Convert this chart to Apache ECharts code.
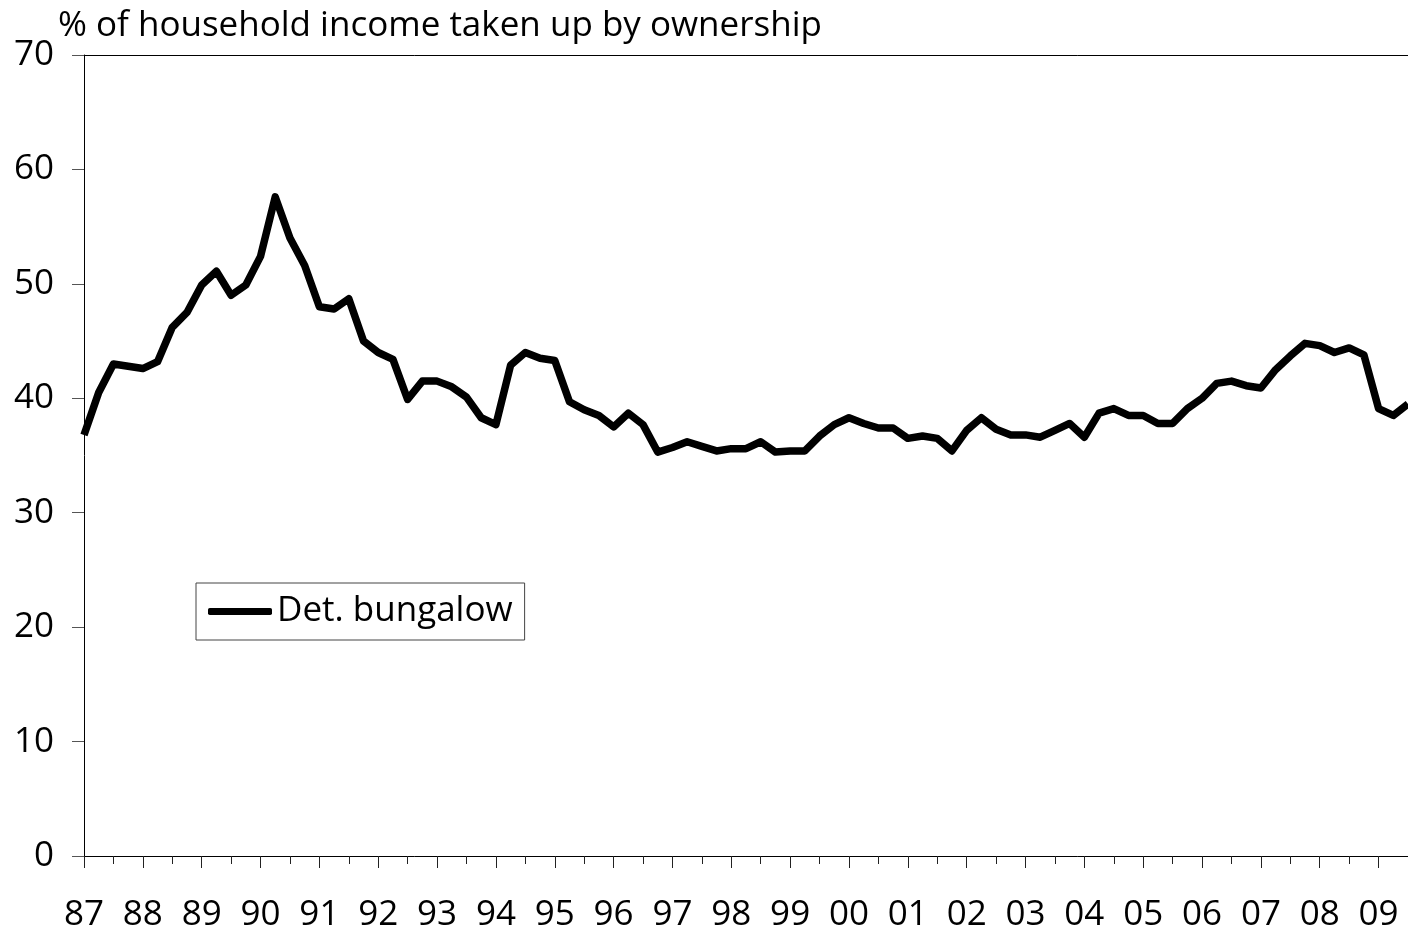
<!DOCTYPE html>
<html>
<head>
<meta charset="utf-8">
<script src="https://cdn.jsdelivr.net/npm/echarts@6/dist/echarts.min.js"></script>
<style>
  html, body { margin: 0; padding: 0; background: #fff; }
  #chart { width: 1408px; height: 933px; }
</style>
</head>
<body>
<div id="chart"></div>
<script>
// year labels on the axis, quarterly data from 87 Q1
var years = ['87', '88', '89', '90', '91', '92', '93', '94', '95', '96', '97', '98',
  '99', '00', '01', '02', '03', '04', '05', '06', '07', '08', '09']
var bungalow = [
  36.8, 40.5, 43.0, 42.8, 42.6, 43.2, 46.2, 47.5, 49.9, 51.1, 49.0, 49.9,
  52.4, 57.6, 54.0, 51.6, 48.0, 47.8, 48.7, 45.0, 44.0, 43.4, 39.9, 41.5,
  41.5, 41.0, 40.1, 38.3, 37.7, 42.9, 44.0, 43.5, 43.3, 39.7, 39.0, 38.5,
  37.5, 38.7, 37.7, 35.3, 35.7, 36.2, 35.8, 35.4, 35.6, 35.6, 36.2, 35.3,
  35.4, 35.4, 36.7, 37.7, 38.3, 37.8, 37.4, 37.4, 36.5, 36.7, 36.5, 35.4,
  37.2, 38.3, 37.3, 36.8, 36.8, 36.6, 37.2, 37.8, 36.6, 38.7, 39.1, 38.5,
  38.5, 37.8, 37.8, 39.1, 40.0, 41.3, 41.5, 41.1, 40.9, 42.5, 43.7, 44.8,
  44.6, 44.0, 44.4, 43.8, 39.1, 38.5, 39.5
]

var categories = []
years.forEach(function(y) {
  for (var q = 1; q <= 4; q++) categories.push(y + ' Q' + q)
})
categories = categories.slice(0, bungalow.length)

var FONT = 'Open Sans'
var chart = echarts.init(document.getElementById('chart'))

chart.setOption({
  animation: false,
  title: {
    text: '% of household income taken up by ownership',
    left: 58,
    top: 9,
    padding: 0,
    textStyle: { fontFamily: FONT, fontSize: 35, fontWeight: 'normal', color: '#000' }
  },
  legend: {
    left: 196,
    top: 583,
    padding: [11, 12, 11, 12],
    borderColor: '#444',
    borderWidth: 1,
    icon: 'roundRect',
    itemWidth: 64,
    itemHeight: 7,
    textStyle: { fontFamily: FONT, fontSize: 35, color: '#000' },
    data: ['Det. bungalow']
  },
  grid: { left: 84, right: -5, top: 55, bottom: 74 },
  xAxis: [
    {
      // half-year minor ticks
      type: 'category',
      data: categories,
      boundaryGap: false,
      axisLine: { lineStyle: { color: '#000', width: 1 } },
      axisTick: { interval: 1, length: 8, lineStyle: { color: '#222' } },
      axisLabel: { show: false },
      splitLine: { show: false }
    },
    {
      // year ticks and labels
      type: 'category',
      data: categories,
      boundaryGap: false,
      position: 'bottom',
      axisLine: { show: false },
      axisTick: { interval: 3, length: 12, lineStyle: { color: '#222' } },
      axisLabel: {
        interval: 3,
        margin: 42,
        fontFamily: FONT,
        fontSize: 35,
        color: '#000',
        formatter: function(v) { return v.slice(0, 2) }
      },
      splitLine: { show: false }
    },
    {
      // top border of the plot
      type: 'category',
      data: categories,
      boundaryGap: false,
      position: 'top',
      axisLine: { lineStyle: { color: '#000', width: 1 } },
      axisTick: { show: false },
      axisLabel: { show: false }
    }
  ],
  yAxis: {
    type: 'value',
    min: 0,
    max: 70,
    interval: 10,
    axisLine: { show: true, lineStyle: { color: '#000', width: 1 } },
    axisTick: { show: true, length: 12, lineStyle: { color: '#555' } },
    axisLabel: {
      margin: 30,
      fontFamily: FONT,
      fontSize: 35,
      color: '#000',
      padding: [0, 0, 8, 0]
    },
    splitLine: { show: false }
  },
  series: [
    {
      name: 'Det. bungalow',
      type: 'line',
      xAxisIndex: 0,
      data: bungalow,
      symbol: 'none',
      itemStyle: { color: '#000' },
      lineStyle: { color: '#000', width: 7.5, join: 'round' }
    }
  ]
})
</script>
</body>
</html>
